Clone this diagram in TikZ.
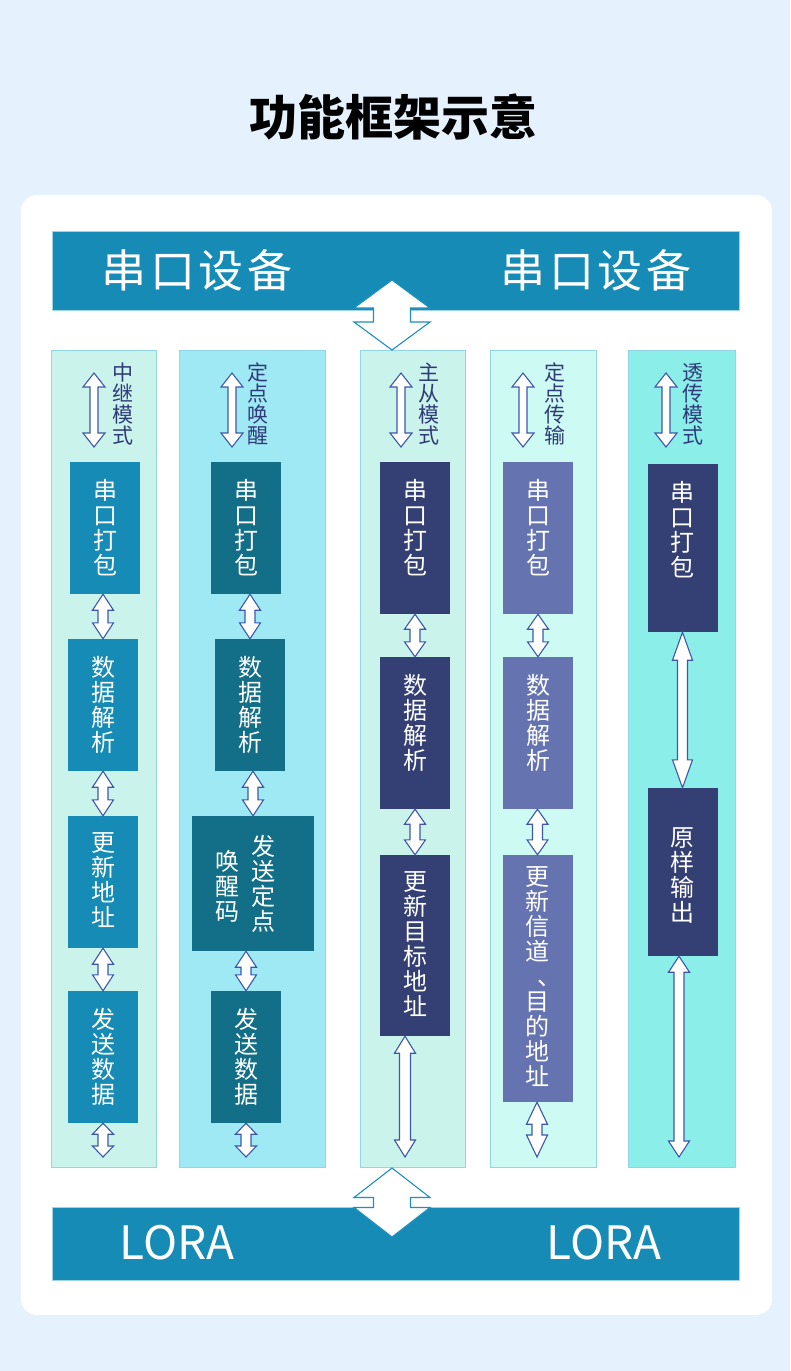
\documentclass[tikz,border=0pt]{standalone}
\usepackage{fontspec}
\setmainfont{Noto Sans CJK SC}
\usetikzlibrary{calc,positioning}

\definecolor{pagebg}{HTML}{E5F1FD}
\definecolor{barblue}{HTML}{158BB5}
\definecolor{barline}{HTML}{9FD4E7}
\definecolor{panelline}{HTML}{93D5E8}
\definecolor{mintfill}{HTML}{C9F3EB}
\definecolor{cyanfill}{HTML}{9FE9F4}
\definecolor{icefill}{HTML}{CDFBF4}
\definecolor{aquafill}{HTML}{8CEEE9}
\definecolor{tealbox}{HTML}{158BB5}
\definecolor{deepteal}{HTML}{136F88}
\definecolor{navybox}{HTML}{344074}
\definecolor{lilacbox}{HTML}{6574B0}
\definecolor{modeink}{HTML}{2F3A78}
\definecolor{arrowink}{HTML}{3D58AB}
\definecolor{bigarrowink}{HTML}{1E90C0}

% hollow double arrow between two points: from, to, head half width, head length, shaft half width
\newcommand{\dblarr}[6][arrowink]{%
  \draw[draw=#1, fill=white, line width=1.1pt, line join=miter]
    let \p1=(#2), \p2=(#3) in
    (\x2,\y1) -- (\x2+#4pt,\y1-#5pt) -- (\x2+#6pt,\y1-#5pt) -- (\x2+#6pt,\y2+#5pt)
    -- (\x2+#4pt,\y2+#5pt) -- (\x2,\y2) -- (\x2-#4pt,\y2+#5pt) -- (\x2-#6pt,\y2+#5pt)
    -- (\x2-#6pt,\y1-#5pt) -- (\x2-#4pt,\y1-#5pt) -- cycle;}

\begin{document}
\begin{tikzpicture}[x=1pt,y=-1pt,
    bar/.style={fill=barblue, draw=barline, line width=0.8pt, minimum width=687, inner sep=0},
    bartext/.style={text=white, inner sep=0, font=\fontsize{45}{45}\selectfont},
    panel/.style={draw=panelline, line width=0.9pt, inner sep=0, minimum height=817},
    stagebox/.style={minimum width=70, minimum height=#1, inner sep=0},
    boxtext/.style={anchor=north, yshift=-#1, inner sep=0, text=white, align=center,
      font=\fontsize{24}{25}\selectfont},
    boxtext/.default=17,
    modetext/.style={anchor=north, inner sep=0, text=modeink, align=center,
      font=\fontsize{21}{21}\selectfont}]

  % page and card
  \fill[pagebg] (0,0) rectangle (790,1371);
  \fill[white, rounded corners=16] (21,195) rectangle (772,1315);
  \node[inner sep=0, font=\fontsize{48}{48}\selectfont\bfseries] (title) at (393,117) {功能框架示意};

  % top and bottom bars
  \node[bar, minimum height=79] (dev) at (395.5,270.5) {};
  \node[bartext] (devl) at (197,270) {\addfontfeature{LetterSpace=8}串口设备};
  \node[bartext] (devr) at (596,270) {\addfontfeature{LetterSpace=8}串口设备};
  \node[bar, minimum height=73] (lora) at (395.5,1243.5) {};
  \node[bartext, font=\fontsize{46}{46}\selectfont] (loral) at (177,1243) {LORA};
  \node[bartext, font=\fontsize{46}{46}\selectfont] (lorar) at (604,1243) {LORA};

  % panels
  \node[panel, fill=mintfill, minimum width=105] (p1) at (103.5,758.5) {};
  \node[panel, fill=cyanfill, minimum width=146] (p2) at (252,758.5) {};
  \node[panel, fill=mintfill, minimum width=105] (p3) at (412.5,758.5) {};
  \node[panel, fill=icefill, minimum width=106] (p4) at (543,758.5) {};
  \node[panel, fill=aquafill, minimum width=107] (p5) at (681.5,758.5) {};

  % mode names
  \node[modetext] (m1) at (123,363) {中\\继\\模\\式};
  \node[modetext] (m2) at (258,363) {定\\点\\唤\\醒};
  \node[modetext] (m3) at (429,363) {主\\从\\模\\式};
  \node[modetext] (m4) at (555,363) {定\\点\\传\\输};
  \node[modetext] (m5) at (693,363) {透\\传\\模\\式};
  \foreach \i/\x in {1/94,2/232,3/401,4/523,5/666} {
    \coordinate (m\i a) at (\x,373);
    \coordinate (m\i b) at (\x,447);
    \dblarr{m\i a}{m\i b}{11}{14}{4}
  }

  % relay mode
  \node[stagebox=132, fill=tealbox, label={[boxtext]north:串\\口\\打\\包}] (b11) at (105,528) {};
  \node[stagebox=132, fill=tealbox, label={[boxtext]north:数\\据\\解\\析}] (b12) at (103,705) {};
  \node[stagebox=132, fill=tealbox, label={[boxtext]north:更\\新\\地\\址}] (b13) at (103,882) {};
  \node[stagebox=132, fill=tealbox, label={[boxtext]north:发\\送\\数\\据}] (b14) at (103,1057) {};
  \coordinate (e1) at (103,1157);
  \dblarr{b11.south}{b12.north}{10.5}{16}{5}
  \dblarr{b12.south}{b13.north}{10.5}{16}{5}
  \dblarr{b13.south}{b14.north}{10.5}{16}{5}
  \dblarr{b14.south}{e1}{10.5}{11}{5}

  % fixed point wake-up
  \node[stagebox=132, fill=deepteal, label={[boxtext]north:串\\口\\打\\包}] (b21) at (246,528) {};
  \node[stagebox=132, fill=deepteal, label={[boxtext]north:数\\据\\解\\析}] (b22) at (250,705) {};
  \node[stagebox=135, minimum width=122, fill=deepteal,
    label={[boxtext=19, xshift=10]north:发\\送\\定\\点},
    label={[boxtext=34, xshift=-26]north:唤\\醒\\码}] (b23) at (253,883.5) {};
  \node[stagebox=132, fill=deepteal, label={[boxtext]north:发\\送\\数\\据}] (b24) at (246,1057) {};
  \coordinate (e2) at (246,1157);
  \dblarr{b21.south}{b22.north}{10.5}{16}{5}
  \dblarr{b22.south}{b23.north}{10.5}{16}{5}
  \dblarr{b23.south}{b24.north}{10.5}{16}{5}
  \dblarr{b24.south}{e2}{10.5}{11}{5}

  % master-slave mode
  \node[stagebox=152, fill=navybox, label={[boxtext]north:串\\口\\打\\包}] (b31) at (415,538) {};
  \node[stagebox=152, fill=navybox, label={[boxtext]north:数\\据\\解\\析}] (b32) at (415,733) {};
  \node[stagebox=181, fill=navybox, label={[boxtext]north:更\\新\\目\\标\\地\\址}] (b33) at (415,945.5) {};
  \coordinate (e3) at (405,1157);
  \dblarr{b31.south}{b32.north}{10.5}{15}{5}
  \dblarr{b32.south}{b33.north}{10.5}{15}{5}
  \dblarr{b33.south}{e3}{10.5}{17}{5.5}

  % fixed point transfer
  \node[stagebox=152, fill=lilacbox, label={[boxtext]north:串\\口\\打\\包}] (b41) at (538,538) {};
  \node[stagebox=152, fill=lilacbox, label={[boxtext]north:数\\据\\解\\析}] (b42) at (538,733) {};
  \node[stagebox=247, fill=lilacbox, label={[boxtext=12]north:更\\新\\信\\道\\\hspace*{24pt}、\\目\\的\\地\\址}] (b43) at (537.5,978.5) {};
  \coordinate (e4) at (537,1157);
  \dblarr{b41.south}{b42.north}{10.5}{15}{5}
  \dblarr{b42.south}{b43.north}{10.5}{15}{5}
  \dblarr{b43.south}{e4}{10.5}{22}{5}

  % transparent mode
  \node[stagebox=168, fill=navybox, label={[boxtext]north:串\\口\\打\\包}] (b51) at (682.5,548) {};
  \node[stagebox=168, fill=navybox, label={[boxtext=40]north:原\\样\\输\\出}] (b52) at (682.5,872) {};
  \coordinate (e5) at (679,1157);
  \dblarr{b51.south}{b52.north}{10}{28}{5}
  \dblarr{b52.south}{e5}{10.5}{16}{5}

  % big arrows to the devices and the radio
  \coordinate (ut) at (392,280);
  \coordinate (ub) at (392,350);
  \coordinate (dt) at (392,1168);
  \coordinate (db) at (392,1237);
  \dblarr[bigarrowink]{ut}{ub}{38}{28}{18.5}
  \dblarr[bigarrowink]{dt}{db}{38}{29.5}{18.5}
\end{tikzpicture}
\end{document}
